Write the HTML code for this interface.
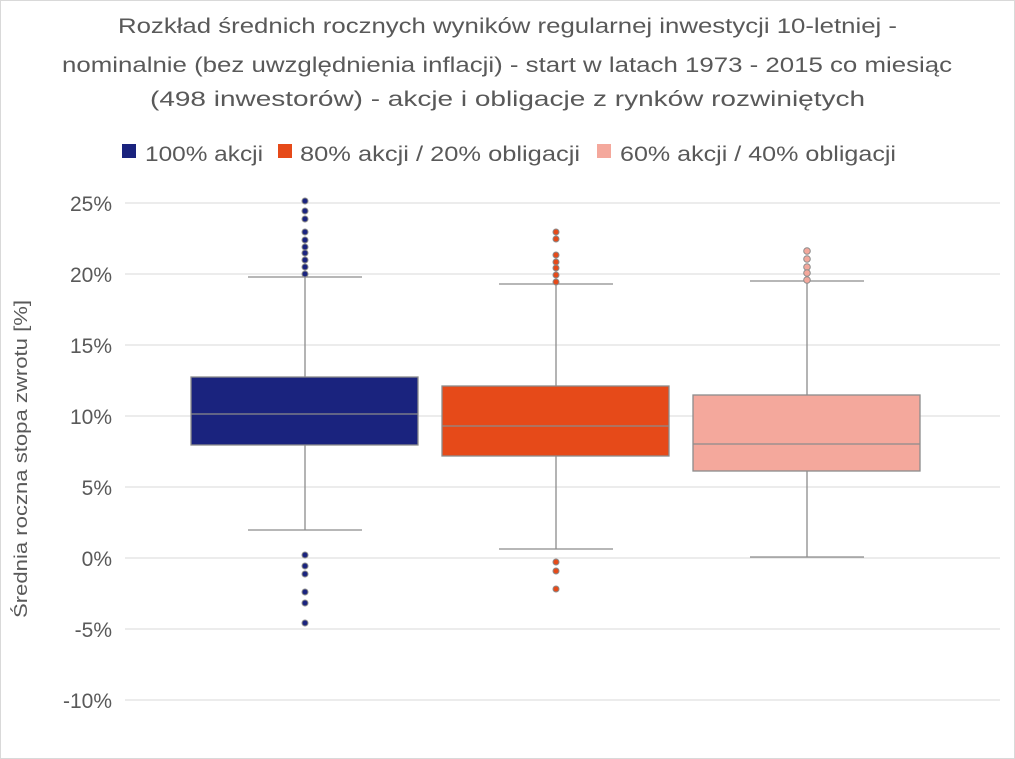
<!DOCTYPE html>
<html><head><meta charset="utf-8"><style>
body{margin:0;background:#fff}
svg{display:block;font-family:"Liberation Sans",sans-serif}
</style></head><body>
<svg width="1015" height="759" viewBox="0 0 1015 759">
<rect x="0.5" y="0.5" width="1014" height="758" fill="#fff" stroke="#d9d9d9"/>
<g font-size="21" fill="#595959">
<text x="118" y="33" textLength="779" lengthAdjust="spacingAndGlyphs">Rozkład średnich rocznych wyników regularnej inwestycji 10-letniej -</text>
<text x="62" y="72" textLength="890" lengthAdjust="spacingAndGlyphs">nominalnie (bez uwzględnienia inflacji) - start w latach 1973 - 2015 co miesiąc</text>
<text x="150" y="106" textLength="715" lengthAdjust="spacingAndGlyphs">(498 inwestorów) - akcje i obligacje z rynków rozwiniętych</text>
</g>
<g font-size="21" fill="#595959">
<rect x="122" y="144" width="14" height="14" fill="#1a237e"/><text x="145" y="161" textLength="118" lengthAdjust="spacingAndGlyphs">100% akcji</text>
<rect x="278" y="144" width="14" height="14" fill="#e64a19"/><text x="300" y="161" textLength="280" lengthAdjust="spacingAndGlyphs">80% akcji / 20% obligacji</text>
<rect x="597" y="144" width="14" height="14" fill="#f4a89c"/><text x="620" y="161" textLength="276" lengthAdjust="spacingAndGlyphs">60% akcji / 40% obligacji</text>
</g>
<g stroke="#d9d9d9" stroke-width="1">
<line x1="125" x2="1000" y1="203" y2="203"/><line x1="125" x2="1000" y1="274" y2="274"/>
<line x1="125" x2="1000" y1="345" y2="345"/><line x1="125" x2="1000" y1="416" y2="416"/>
<line x1="125" x2="1000" y1="487" y2="487"/><line x1="125" x2="1000" y1="558" y2="558"/>
<line x1="125" x2="1000" y1="629" y2="629"/><line x1="125" x2="1000" y1="700" y2="700"/>
</g>
<g font-size="21" fill="#595959" text-anchor="end">
<text x="112" y="211">25%</text><text x="112" y="282">20%</text><text x="112" y="353">15%</text>
<text x="112" y="424">10%</text><text x="112" y="495">5%</text><text x="112" y="566">0%</text>
<text x="112" y="637">-5%</text><text x="112" y="708">-10%</text>
</g>
<text transform="translate(27,459) rotate(-90)" font-size="18" fill="#595959" text-anchor="middle" textLength="318" lengthAdjust="spacingAndGlyphs">Średnia roczna stopa zwrotu [%]</text>
<g stroke="#8c8c8c" stroke-width="1.3">
<line x1="305" x2="305" y1="277" y2="530"/><line x1="248" x2="362" y1="277" y2="277"/><line x1="248" x2="362" y1="530" y2="530"/>
<line x1="556" x2="556" y1="284" y2="549"/><line x1="499" x2="613" y1="284" y2="284"/><line x1="499" x2="613" y1="549" y2="549"/>
<line x1="807" x2="807" y1="281" y2="557"/><line x1="750" x2="864" y1="281" y2="281"/><line x1="750" x2="864" y1="557" y2="557"/>
<rect x="191" y="377" width="227" height="68" fill="#1a237e"/><line x1="191" x2="418" y1="414" y2="414"/>
<rect x="442" y="386" width="227" height="70" fill="#e64a19"/><line x1="442" x2="669" y1="426" y2="426"/>
<rect x="693" y="395" width="227" height="76" fill="#f4a89c"/><line x1="693" x2="920" y1="444" y2="444"/>
</g>
<g stroke="#8c8c8c" stroke-width="1" fill="#1a237e">
<circle cx="305" cy="201" r="3"/><circle cx="305" cy="211" r="3"/><circle cx="305" cy="219" r="3"/><circle cx="305" cy="232" r="3"/><circle cx="305" cy="240" r="3"/><circle cx="305" cy="247" r="3"/><circle cx="305" cy="253" r="3"/><circle cx="305" cy="260" r="3"/><circle cx="305" cy="267" r="3"/><circle cx="305" cy="274" r="3"/>
<circle cx="305" cy="555" r="3"/><circle cx="305" cy="566" r="3"/><circle cx="305" cy="574" r="3"/><circle cx="305" cy="592" r="3"/><circle cx="305" cy="603" r="3"/><circle cx="305" cy="623" r="3"/>
</g>
<g stroke="#8c8c8c" stroke-width="1" fill="#e64a19">
<circle cx="556" cy="232" r="3"/><circle cx="556" cy="239" r="3"/><circle cx="556" cy="255" r="3"/><circle cx="556" cy="262" r="3"/><circle cx="556" cy="268" r="3"/><circle cx="556" cy="275" r="3"/><circle cx="556" cy="282" r="3"/>
<circle cx="556" cy="562" r="3"/><circle cx="556" cy="571" r="3"/><circle cx="556" cy="589" r="3"/>
</g>
<g stroke="#8c8c8c" stroke-width="1" fill="#f4a89c">
<circle cx="807" cy="251" r="3.3"/><circle cx="807" cy="259" r="3.3"/><circle cx="807" cy="267" r="3.3"/><circle cx="807" cy="273" r="3.3"/><circle cx="807" cy="280" r="3.3"/>
</g>
</svg>
</body></html>
